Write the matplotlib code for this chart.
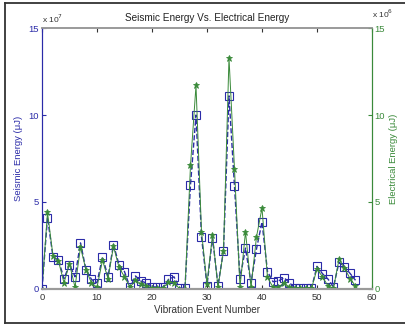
import matplotlib
matplotlib.use("Agg")
from matplotlib import pyplot as plt
from matplotlib.lines import Line2D

event = list(range(0, 58))
# seismic energy, units of 1e7 uJ
seismic = [0, 4.1, 1.85, 1.65, 0.6, 1.4, 0.7, 2.65, 1.1, 0.55,
           0.35, 1.85, 0.7, 2.55, 1.4, 1.0, 0.1, 0.75, 0.45, 0.35,
           0.12, 0.12, 0.1, 0.55, 0.7, 0.05, 0.05, 6.0, 10.0, 3.0,
           0.2, 2.95, 0.2, 2.2, 11.1, 5.9, 0.6, 2.35, 0.35, 2.3,
           3.85, 1.0, 0.42, 0.46, 0.65, 0.36, 0.05, 0.05, 0.05, 0.05,
           1.3, 0.88, 0.57, 0.12, 1.53, 1.27, 0.9, 0.5]
# electrical energy, units of 1e6 uJ
electrical = [0, 4.4, 1.9, 1.6, 0.35, 1.45, 0.1, 2.4, 1.1, 0.35,
              0.1, 1.65, 0.6, 2.45, 1.25, 0.7, 0.1, 0.5, 0.3, 0.2,
              0.05, 0.05, 0.05, 0.4, 0.35, 0.02, 0.02, 7.1, 11.7, 3.3,
              0.3, 3.1, 0.1, 2.2, 13.3, 6.9, 0.1, 3.3, 0.1, 3.0,
              4.65, 0.67, 0.1, 0.1, 0.36, 0.1, 0.05, 0.03, 0.03, 0.03,
              1.15, 0.7, 0.17, 0.05, 1.7, 1.2, 0.6, 0.18]

xticks = [0, 10, 20, 30, 40, 50, 60]
yticks = [0, 5, 10, 15]

blue = '#2b2ba8'
green = '#3a8a3a'
plt.rcParams['font.family'] = ['Liberation Sans', 'DejaVu Sans']
plt.rcParams['font.size'] = 6.8

fig = plt.figure(figsize=(4.05, 3.25), dpi=100)
ax = fig.add_axes([0.1037, 0.1108, 0.8148, 0.803])
ax2 = ax.twinx()

ax.plot(event, seismic, '--s', color=blue, mfc='none', ms=5.5, lw=1.0, mew=0.8)
ax2.plot(event, electrical, '-*', color=green, ms=4.5, lw=0.7, mew=0.6)

ax.set_xlim(0, 60)
ax.set_ylim(0, 15)
ax2.set_ylim(0, 15)
ax.set_xticks(xticks)
ax.set_yticks(yticks)
ax2.set_yticks(yticks)

ax.tick_params(axis='x', direction='in', top=True, length=3, colors='#333333', pad=3)
ax.tick_params(axis='y', direction='in', length=3, colors=blue, pad=2)
ax2.tick_params(axis='y', direction='in', length=3, colors=green, pad=2)

for a in (ax, ax2):
    a.spines['top'].set_color('#9a9a9a')
    a.spines['bottom'].set_color('#9a9a9a')
    a.spines['top'].set_linewidth(1.2)
    a.spines['bottom'].set_linewidth(1.5)
    a.spines['left'].set_color(blue)
    a.spines['right'].set_color(green)

ax.set_title('Seismic Energy Vs. Electrical Energy', fontsize=7.2, pad=5, color='#222222')
ax.set_xlabel('Vibration Event Number', color='#333333', labelpad=2, fontsize=7.2)
ax.set_ylabel('Seismic Energy (\u03bcJ)', color=blue, labelpad=4)
ax2.set_ylabel('Electrical Energy (\u03bcJ)', color=green, labelpad=3, rotation=90)

ax.text(0.0, 1.01, 'x 10$^7$', transform=ax.transAxes, color='#333333',
        fontsize=6, ha='left', va='bottom')
ax2.text(1.0, 1.03, 'x 10$^6$', transform=ax2.transAxes, color='#333333',
         fontsize=6, ha='left', va='bottom')

# figure frame
for xs, ys in [([0.012, 1.0], [0.991, 0.991]), ([0.012, 0.012], [0.006, 0.991]),
               ([0.012, 1.0], [0.006, 0.006])]:
    fig.add_artist(Line2D(xs, ys, color='#333333', lw=1.3, transform=fig.transFigure))

fig.savefig('out.png', dpi=100)
